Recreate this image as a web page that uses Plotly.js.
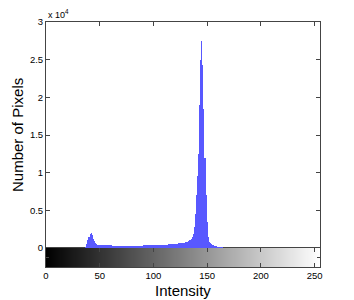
<!DOCTYPE html>
<html><head><meta charset="utf-8">
<script src="https://cdn.plot.ly/plotly-3.0.1.min.js"></script>
<style>html,body{margin:0;padding:0;background:#fff}#chart{width:354px;height:300px}</style>
</head><body><div id="chart"></div>
<script>
// Intensity levels (categories)
const intensityLevels = [];
for (let i = 0; i < 256; i++) intensityLevels.push(i);

// Pixel counts per intensity
const pixelCounts = [
  0,0,0,0,0,0,0,0,0,0, 0,0,0,0,0,0,0,0,0,0,
  0,0,0,0,0,0,0,0,0,0, 0,0,0,0,0,0,0,
  150,500,1000,1500,1850,1950,1700,1250,900,650,520,460,430,
  410,400,390,380,372,360,355,350,345,340,
  342,335,330,332,325,326,320,322,318,315,
  316,314,310,312,309,311,310,313,315,314,
  316,320,318,321,320,324,326,323,330,328,
  331,335,333,340,338,345,344,350,355,358,
  362,365,370,373,380,384,392,400,410,420,
  430,440,452,460,470,482,490,500,512,520,
  540,560,578,600,620,640,662,680,700,730,
  760,800,850,900,1000,1200,1450,1900,2800,4500,
  7000,9500,12500,19000,25000,27500,24300,18400,12000,7000,
  3500,1500,800,600,500,420,360,300,260,220,
  180,150,130,110,90,60,30,10,0,0,
  0,0,0,0,0,0,0,0,0,0, 0,0,0,0,0,0,0,0,0,0,
  0,0,0,0,0,0,0,0,0,0, 0,0,0,0,0,0,0,0,0,0,
  0,0,0,0,0,0,0,0,0,0, 0,0,0,0,0,0,0,0,0,0,
  0,0,0,0,0,0,0,0,0,0, 0,0,0,0,0,0,0,0,0,0,
  0,0,0,0,0,0
];

const yTickValues = [0, 5000, 10000, 15000, 20000, 25000, 30000];
const yTickLabels = ['0', '0.5', '1', '1.5', '2', '2.5', '3'];
const xTickValues = [0, 50, 100, 150, 200, 250];

const FONT = 'Liberation Sans, Arial, Helvetica, sans-serif';
const LINE = '#444';
const cbFrac = 19 / 245;

const bars = {
  type: 'bar', x: intensityLevels, y: pixelCounts,
  xaxis: 'x2', yaxis: 'y',
  marker: {color: 'rgb(88,88,255)', line: {width: 0}},
  hoverinfo: 'skip'
};
const grayBar = {
  type: 'heatmap', x: intensityLevels, y: [0.5], z: [intensityLevels],
  xaxis: 'x', yaxis: 'y2', zmin: 0, zmax: 255,
  colorscale: [[0, '#000000'], [1, '#ffffff']], showscale: false, hoverinfo: 'skip'
};

const layout = {
  width: 354, height: 300,
  margin: {l: 46, r: 34, t: 22, b: 33, pad: 0},
  paper_bgcolor: '#fff', plot_bgcolor: '#fff',
  showlegend: false, bargap: 0,
  font: {family: FONT, size: 9.5, color: '#000'},
  xaxis: {
    anchor: 'y2', range: [0, 255], tickvals: xTickValues, ticks: 'inside', ticklen: 4,
    tickcolor: LINE, showline: true, linecolor: LINE, linewidth: 1, mirror: 'ticks',
    showgrid: false, zeroline: false, tickfont: {size: 9.5, color: '#000'}
  },
  xaxis2: {
    matches: 'x', anchor: 'y', side: 'top', range: [0, 255], tickvals: xTickValues,
    ticks: 'inside', ticklen: 4, tickcolor: LINE, showline: true, linecolor: LINE,
    linewidth: 1, showticklabels: false, showgrid: false, zeroline: false
  },
  yaxis: {
    domain: [cbFrac, 1], range: [0, 30000], tickvals: yTickValues, ticktext: yTickLabels,
    ticks: 'inside', ticklen: 4, tickcolor: LINE, showline: true, linecolor: LINE,
    linewidth: 1, mirror: 'ticks', showgrid: false, zeroline: false,
    tickfont: {size: 9.5, color: '#000'}
  },
  yaxis2: {
    domain: [0, cbFrac], range: [0, 1], tickvals: [0.5], ticks: 'inside', ticklen: 3,
    tickcolor: LINE, showline: true, linecolor: LINE, linewidth: 1, mirror: 'ticks',
    showticklabels: false, showgrid: false, zeroline: false
  },
  annotations: [
    {text: 'Number of Pixels', xref: 'paper', yref: 'paper', x: -0.102, y: 0.539,
     xanchor: 'center', yanchor: 'middle', textangle: -90, showarrow: false,
     font: {family: FONT, size: 15, color: '#000'}},
    {text: 'Intensity', xref: 'paper', yref: 'paper', x: 0.5, y: -0.094,
     xanchor: 'center', yanchor: 'middle', showarrow: false,
     font: {family: FONT, size: 15, color: '#000'}},
    {text: 'x 10<sup>4</sup>', xref: 'paper', yref: 'paper', x: 0.0, y: 1.033,
     xanchor: 'left', yanchor: 'middle', showarrow: false,
     font: {family: FONT, size: 9, color: '#000'}}
  ]
};

Plotly.newPlot('chart', [grayBar, bars], layout, {staticPlot: true, displayModeBar: false});
</script>
</body></html>
